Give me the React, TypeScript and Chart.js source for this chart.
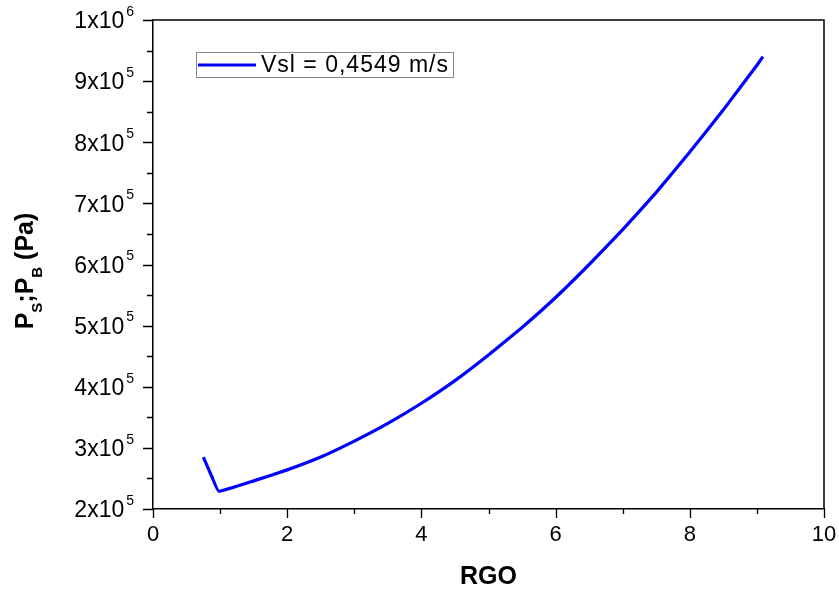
import React, { useEffect, useRef } from "react";
import { Chart, registerables } from "chart.js";

Chart.register(...registerables);

const rgo = [0.75, 0.88, 0.98, 1.5, 2, 2.5, 3, 3.5, 4, 4.5, 5, 5.5, 6, 6.5, 7, 7.5, 8, 8.5, 9, 9.09];
const pressure = [2.85e5, 2.52e5, 2.29e5, 2.46e5, 2.64e5, 2.85e5, 3.11e5, 3.4e5, 3.73e5, 4.1e5, 4.52e5, 4.97e5, 5.46e5, 6.0e5, 6.57e5, 7.18e5, 7.84e5, 8.53e5, 9.26e5, 9.4e5];
const xMajorTicks = [0, 2, 4, 6, 8, 10];
const xMinorTicks = [1, 3, 5, 7, 9];
const yMajorTicks = [2e5, 3e5, 4e5, 5e5, 6e5, 7e5, 8e5, 9e5, 1e6];
const yMinorTicks = [2.5e5, 3.5e5, 4.5e5, 5.5e5, 6.5e5, 7.5e5, 8.5e5, 9.5e5];
const seriesLabel = "Vsl = 0,4549 m/s";
const xTitle = "RGO";

const FONT = "'Liberation Sans', Arial, Helvetica, sans-serif";

function sciParts(v: number): [string, string] {
  const exp = Math.floor(Math.log10(v) + 1e-9);
  const mant = Math.round(v / Math.pow(10, exp));
  return [mant + "x10", String(exp)];
}

const decorPlugin = {
  id: "decor",
  afterDraw(chart: any) {
    const ctx = chart.ctx as CanvasRenderingContext2D;
    const { left, right, top, bottom } = chart.chartArea;
    const xs = chart.scales.x;
    const ys = chart.scales.y;
    ctx.save();
    ctx.strokeStyle = "#000";
    ctx.lineWidth = 1.5;
    // top & right frame
    ctx.beginPath();
    ctx.moveTo(left, top);
    ctx.lineTo(right, top);
    ctx.lineTo(right, bottom);
    ctx.stroke();
    // ticks
    ctx.lineWidth = 1.3;
    ctx.beginPath();
    xMajorTicks.forEach((v) => {
      const px = Math.round(xs.getPixelForValue(v)) + 0.5;
      ctx.moveTo(px, bottom);
      ctx.lineTo(px, bottom + 9);
    });
    xMinorTicks.forEach((v) => {
      const px = Math.round(xs.getPixelForValue(v)) + 0.5;
      ctx.moveTo(px, bottom);
      ctx.lineTo(px, bottom + 5);
    });
    yMajorTicks.forEach((v) => {
      const py = Math.round(ys.getPixelForValue(v)) + 0.5;
      ctx.moveTo(left, py);
      ctx.lineTo(left - 10, py);
    });
    yMinorTicks.forEach((v) => {
      const py = Math.round(ys.getPixelForValue(v)) + 0.5;
      ctx.moveTo(left, py);
      ctx.lineTo(left - 6, py);
    });
    ctx.stroke();

    ctx.fillStyle = "#000";
    // x labels
    ctx.font = `22px ${FONT}`;
    ctx.textAlign = "center";
    ctx.textBaseline = "middle";
    xMajorTicks.forEach((v) => {
      ctx.fillText(String(v), xs.getPixelForValue(v), bottom + 26);
    });
    // y labels with superscript
    yMajorTicks.forEach((v) => {
      const py = ys.getPixelForValue(v);
      const [main, exp] = sciParts(v);
      ctx.font = `14px ${FONT}`;
      ctx.textAlign = "right";
      ctx.textBaseline = "middle";
      const ew = ctx.measureText(exp).width;
      const ex = left - 19;
      ctx.fillText(exp, ex, py - 8);
      ctx.font = `23px ${FONT}`;
      ctx.fillText(main, ex - ew - 2, py + 2);
    });

    // x title
    ctx.font = `bold 25px ${FONT}`;
    ctx.textAlign = "center";
    ctx.textBaseline = "middle";
    ctx.fillText(xTitle, (left + right) / 2, 577);

    // y title: P_S;P_B (Pa)
    const parts: [string, boolean][] = [
      ["P", false],
      ["S", true],
      [";", false],
      ["P", false],
      ["B", true],
      [" (Pa)", false],
    ];
    const bigFont = `bold 25px ${FONT}`;
    const subFont = `bold 15px ${FONT}`;
    let total = 0;
    parts.forEach(([t, sub]) => {
      ctx.font = sub ? subFont : bigFont;
      total += ctx.measureText(t).width;
    });
    ctx.save();
    ctx.translate(33, 271 + total / 2);
    ctx.rotate(-Math.PI / 2);
    ctx.textAlign = "left";
    ctx.textBaseline = "alphabetic";
    let cx = 0;
    parts.forEach(([t, sub]) => {
      ctx.font = sub ? subFont : bigFont;
      ctx.fillText(t, cx, sub ? 9 : 0);
      cx += ctx.measureText(t).width;
    });
    ctx.restore();

    // legend
    ctx.strokeStyle = "#888";
    ctx.lineWidth = 1;
    ctx.strokeRect(196.5, 52.5, 257, 25);
    ctx.strokeStyle = "#0000ff";
    ctx.lineWidth = 3;
    ctx.beginPath();
    ctx.moveTo(198, 65);
    ctx.lineTo(256, 65);
    ctx.stroke();
    ctx.fillStyle = "#000";
    ctx.font = `23px ${FONT}`;
    ctx.textAlign = "left";
    ctx.textBaseline = "middle";
    (ctx as any).letterSpacing = "1px";
    ctx.fillText(seriesLabel, 261, 66);
    (ctx as any).letterSpacing = "0px";
    ctx.restore();
  },
};

export default function App() {
  const canvasRef = useRef<HTMLCanvasElement | null>(null);
  useEffect(() => {
    if (!canvasRef.current) return;
    const chart = new Chart(canvasRef.current, {
      type: "line",
      data: {
        datasets: [
          {
            label: seriesLabel,
            data: rgo.map((x, i) => ({ x, y: pressure[i] })),
            borderColor: "#0000ff",
            borderWidth: 3.2,
            pointRadius: 0,
            tension: 0.1,
            fill: false,
          },
        ],
      },
      options: {
        responsive: false,
        animation: false,
        layout: { padding: { left: 0, top: 20, right: 15, bottom: 0 } },
        plugins: { legend: { display: false }, tooltip: { enabled: false } },
        scales: {
          x: {
            type: "linear",
            min: 0,
            max: 10,
            ticks: { display: false },
            grid: { display: false },
            border: { display: true, color: "#000", width: 1.5 },
            afterFit: (s: any) => {
              s.height = 81;
            },
          },
          y: {
            type: "linear",
            min: 2e5,
            max: 1e6,
            ticks: { display: false },
            grid: { display: false },
            border: { display: true, color: "#000", width: 1.5 },
            afterFit: (s: any) => {
              s.width = 153;
            },
          },
        },
      },
      plugins: [decorPlugin],
    });
    return () => chart.destroy();
  }, []);
  return (
    <div style={{ position: "fixed", left: 0, top: 0, width: 839, height: 590, background: "#fff" }}>
      <canvas ref={canvasRef} width={839} height={590} style={{ width: 839, height: 590 }} />
    </div>
  );
}
